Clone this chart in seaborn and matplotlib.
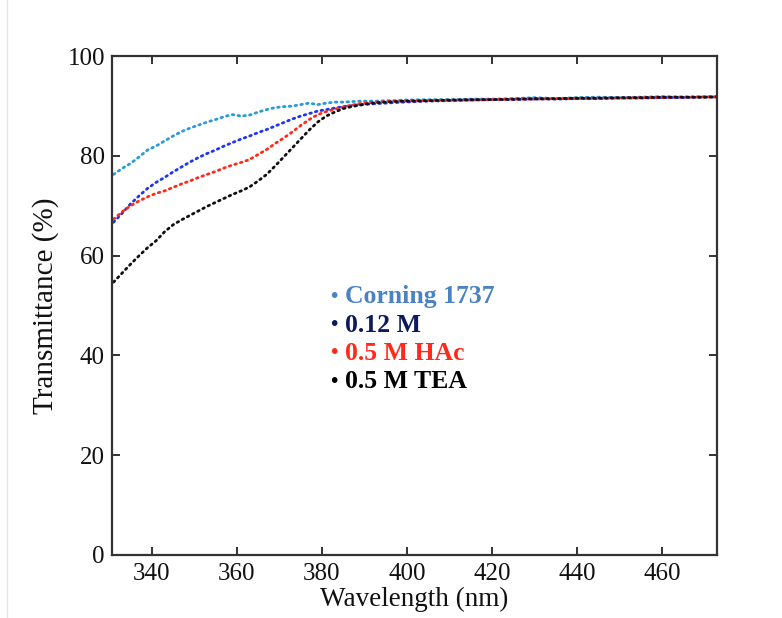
import matplotlib
matplotlib.use("Agg")
import matplotlib.pyplot as plt
import seaborn as sns
import pandas as pd
from matplotlib.lines import Line2D

wavelength = [331, 333, 335, 337, 339, 341, 343, 345, 347, 349, 351, 353, 355, 357, 359,
              361, 363, 365, 367, 369, 371, 373, 375, 377, 379, 381, 383, 385, 387, 389,
              391, 393, 395, 397, 399, 405, 410, 415, 420, 425, 430, 435, 440, 445, 450,
              455, 460, 465, 470, 473]

corning = [76.3, 77.5, 78.5, 79.8, 81.2, 82.0, 83.0, 84.0, 84.9, 85.6, 86.2, 86.8, 87.3, 87.9, 88.3,
           88.0, 88.2, 88.8, 89.3, 89.7, 89.9, 90.0, 90.3, 90.6, 90.3, 90.6, 90.8, 90.8, 90.9, 91.0,
           91.0, 91.0, 91.1, 91.1, 91.2, 91.3, 91.3, 91.4, 91.4, 91.5, 91.7, 91.5, 91.7, 91.8, 91.7,
           91.8, 91.9, 91.8, 91.9, 91.9]

m012 = [66.7, 68.5, 70.4, 72.0, 73.5, 74.7, 75.7, 76.8, 77.8, 78.8, 79.7, 80.5, 81.2, 82.0, 82.7,
        83.4, 84.0, 84.7, 85.3, 86.0, 86.7, 87.4, 88.0, 88.5, 89.0, 89.3, 89.6, 89.9, 90.1, 90.3,
        90.4, 90.5, 90.6, 90.7, 90.8, 91.0, 91.1, 91.2, 91.3, 91.3, 91.4, 91.4, 91.5, 91.5, 91.6,
        91.6, 91.7, 91.7, 91.8, 91.8]

hac = [67.3, 68.8, 70.0, 71.0, 71.8, 72.5, 73.0, 73.7, 74.4, 75.0, 75.7, 76.3, 76.9, 77.6, 78.2,
       78.7, 79.3, 80.3, 81.3, 82.5, 83.6, 84.8, 86.1, 87.3, 88.3, 88.9, 89.4, 89.8, 90.2, 90.5,
       90.7, 90.8, 90.9, 91.0, 91.0, 91.1, 91.2, 91.2, 91.3, 91.4, 91.4, 91.5, 91.5, 91.6, 91.6,
       91.7, 91.7, 91.8, 91.8, 91.8]

tea = [54.7, 56.5, 58.3, 60.0, 61.6, 63.0, 64.8, 66.2, 67.2, 68.1, 69.0, 69.9, 70.7, 71.5, 72.3,
       73.0, 73.8, 75.0, 76.3, 78.0, 79.8, 81.6, 83.4, 85.2, 86.8, 88.0, 88.8, 89.5, 89.9, 90.2,
       90.5, 90.7, 90.8, 90.9, 91.0, 91.1, 91.2, 91.3, 91.3, 91.4, 91.5, 91.5, 91.6, 91.6, 91.7,
       91.7, 91.8, 91.8, 91.8, 91.9]

series_names = ["Corning 1737", "0.12 M", "0.5 M HAc", "0.5 M TEA"]
line_colors = ["#2a9ad8", "#1f35f0", "#ff2a1a", "#111111"]
label_colors = ["#4a82c4", "#0d1b5a", "#ff2a1a", "#000000"]
x_ticks = [340, 360, 380, 400, 420, 440, 460]
y_ticks = [0, 20, 40, 60, 80, 100]

sns.set_theme(style="ticks")
plt.rcParams["font.family"] = ["Liberation Serif", "DejaVu Serif"]

fig = plt.figure(figsize=(7.82, 6.18), dpi=100)
ax = fig.add_axes([0.143, 0.102, 0.774, 0.807])

values = [corning, m012, hac, tea]
for name, vals, col in zip(series_names, values, line_colors):
    df = pd.DataFrame({"Wavelength": wavelength, "T": vals})
    sns.lineplot(data=df, x="Wavelength", y="T", ax=ax, color=col,
                 linewidth=2.0, linestyle=(0, (0.6, 1.5)), dash_capstyle="round")

ax.set_xlim(330.6, 472.9)
ax.set_ylim(0, 100)
ax.set_xticks(x_ticks)
ax.set_yticks(y_ticks)
ax.tick_params(direction="in", length=6, width=1.3, top=True, right=True,
               labelsize=18, colors="#222222")
ax.tick_params(axis="x", pad=6)
ax.tick_params(axis="y", pad=5)
for lab in ax.get_xticklabels() + ax.get_yticklabels():
    lab.set_color("#111111")
for sp in ax.spines.values():
    sp.set_linewidth(1.6)
    sp.set_color("#333333")
ax.set_xlabel("Wavelength (nm)", fontsize=19.5, labelpad=1, color="#111111")
ax.set_ylabel("Transmittance (%)", fontsize=21, labelpad=6, color="#111111")

# legend-like text block
ys = [51.8, 46.1, 40.4, 34.7]
for name, col, yy in zip(series_names, label_colors, ys):
    ax.text(382.7, yy, "\u2022", color=col, fontsize=15, ha="center", va="center",
            fontweight="bold")
    ax.text(385.4, yy, name, color=col, fontsize=18.5, ha="left", va="center",
            fontweight="bold")

fig.add_artist(Line2D([7 / 782, 7 / 782], [0, 1], color="#e6e6e6", linewidth=1,
                      transform=fig.transFigure))

fig.savefig("out.png", dpi=100)
